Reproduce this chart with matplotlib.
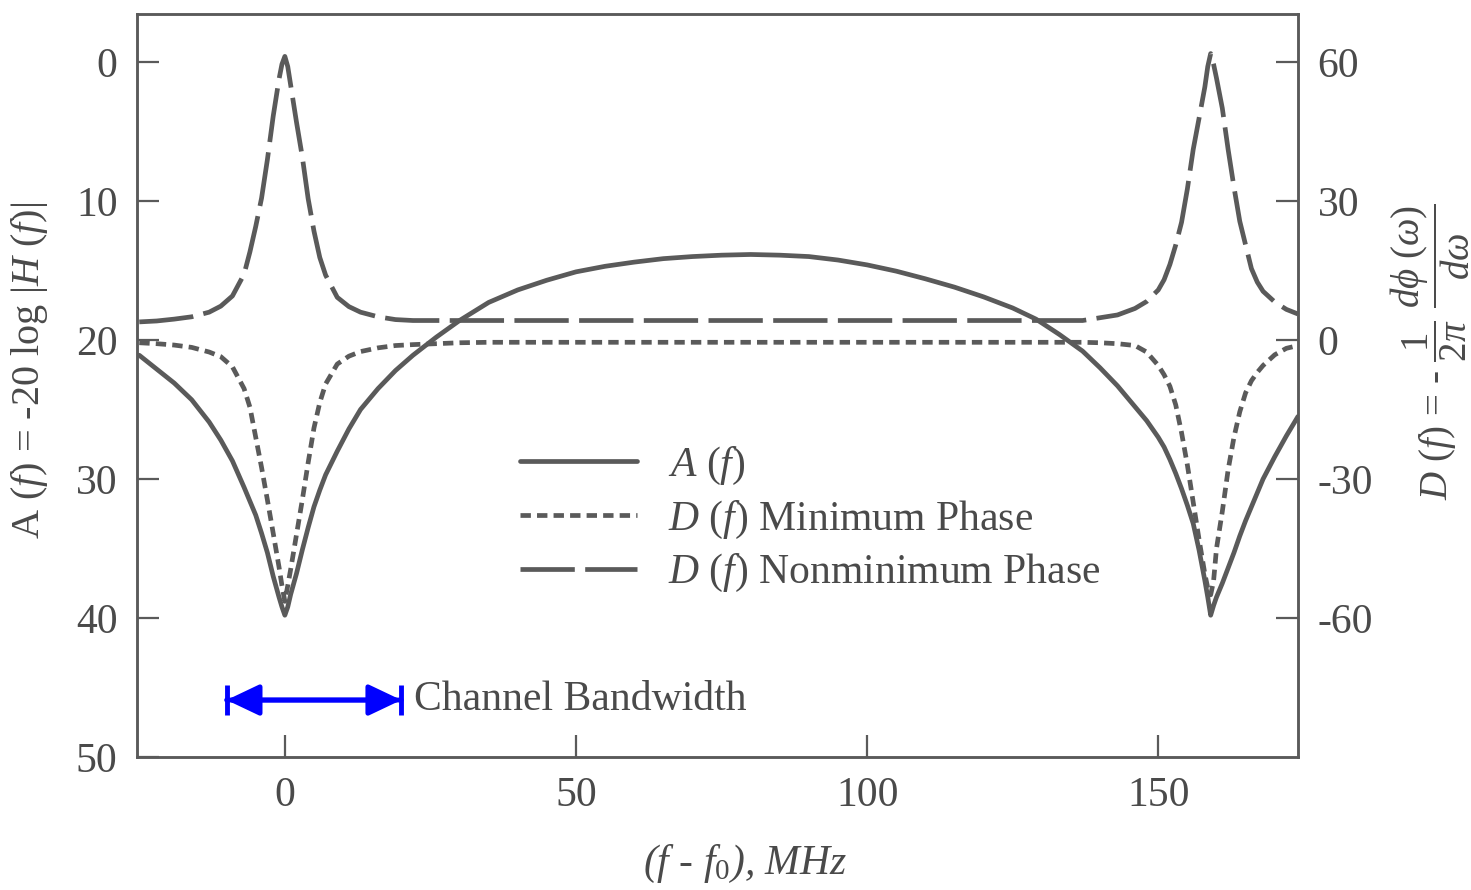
import matplotlib
matplotlib.use("Agg")
import matplotlib.pyplot as plt

plt.rcParams['font.family'] = ['Liberation Serif', 'DejaVu Serif']
plt.rcParams['mathtext.fontset'] = 'custom'
plt.rcParams['mathtext.rm'] = 'Liberation Serif'
plt.rcParams['mathtext.it'] = 'Liberation Serif:italic'
plt.rcParams['mathtext.bf'] = 'Liberation Serif:bold'
plt.rcParams['axes.unicode_minus'] = False

# frequency offset (MHz)
freq = [-25, -22, -19, -16, -13, -11, -9, -7, -6, -5,
        -4, -3, -2, -1, -0.5, 0, 0.5, 1, 2, 3,
        4, 5, 6, 7, 9, 11, 13, 16, 19, 22,
        26, 30, 35, 40, 45, 50, 55, 60, 65, 70,
        75, 80, 85, 90, 95, 100, 105, 110, 115, 120,
        125, 129, 133, 137, 140, 143, 146, 148, 150, 151,
        152, 153, 154, 155, 156, 157, 158, 158.5, 159, 159.5,
        160, 161, 162, 163, 164, 165, 166, 167, 168, 170,
        172, 174]

# A(f), dB (left axis)
amp = [21.1, 22.1, 23.1, 24.3, 25.9, 27.2, 28.7, 30.6, 31.6, 32.6,
       33.9, 35.3, 37.0, 38.5, 39.2, 39.8, 39.2, 38.3, 36.8, 35.1,
       33.5, 32.0, 30.8, 29.7, 28.0, 26.4, 25.0, 23.5, 22.2, 21.1,
       19.8, 18.6, 17.3, 16.4, 15.7, 15.1, 14.7, 14.4, 14.15, 14.0,
       13.9, 13.85, 13.9, 14.0, 14.25, 14.6, 15.05, 15.6, 16.2, 16.9,
       17.7, 18.5, 19.6, 20.8, 22.0, 23.3, 24.8, 25.8, 27.0, 27.7,
       28.6, 29.6, 30.7, 31.9, 33.2, 35.1, 37.3, 38.5, 39.8, 39.1,
       38.5, 37.5, 36.4, 35.3, 34.1, 33.0, 32.0, 31.0, 30.0, 28.4,
       26.9, 25.5]

# D(f) minimum phase, ns (right axis)
d_min = [-0.6, -0.8, -1.1, -1.6, -2.6, -3.6, -5.8, -10.5, -14.5, -21.0,
         -27.5, -34.5, -41.7, -49.0, -53.0, -56.4, -53.0, -49.5, -42.0, -34.5,
         -26.5, -19.0, -13.5, -9.5, -5.2, -3.5, -2.5, -1.7, -1.2, -1.0,
         -0.8, -0.6, -0.5, -0.5, -0.5, -0.5, -0.5, -0.5, -0.5, -0.5,
         -0.5, -0.5, -0.5, -0.5, -0.5, -0.5, -0.5, -0.5, -0.5, -0.5,
         -0.5, -0.5, -0.5, -0.5, -0.6, -0.8, -1.2, -2.6, -5.5, -7.5,
         -10.0, -14.0, -20.0, -27.0, -35.0, -43.0, -50.5, -53.5, -55.0, -52.0,
         -45.0, -37.0, -28.0, -21.0, -15.5, -11.4, -8.8, -7.0, -5.5, -3.2,
         -1.8, -1.2]

# D(f) nonminimum phase, ns (right axis)
d_nonmin = [3.9, 4.1, 4.5, 5.0, 6.0, 7.3, 9.5, 14.2, 19.0, 24.5,
            30.6, 38.9, 48.3, 56.3, 59.5, 61.2, 59.0, 55.0, 47.0, 39.5,
            30.5, 23.5, 17.8, 14.0, 9.2, 7.2, 6.0, 5.0, 4.4, 4.2,
            4.2, 4.2, 4.2, 4.2, 4.2, 4.2, 4.2, 4.2, 4.2, 4.2,
            4.2, 4.2, 4.2, 4.2, 4.2, 4.2, 4.2, 4.2, 4.2, 4.2,
            4.2, 4.2, 4.2, 4.2, 4.8, 5.4, 6.8, 8.3, 10.8, 13.0,
            16.3, 20.5, 25.4, 32.6, 41.1, 47.8, 54.6, 59.0, 61.8, 59.5,
            56.5, 50.0, 41.1, 33.0, 25.6, 20.5, 15.4, 12.5, 10.5, 8.2,
            6.6, 5.6]

band_lo, band_hi = -10, 20
x_ticks = [0, 50, 100, 150]
a_ticks = [0, 10, 20, 30, 40, 50]
d_ticks = [60, 30, 0, -30, -60]

gray = '#5a5a5a'
txt = '#4a4a4a'
fs = 30

fig = plt.figure(figsize=(14.71, 8.9), dpi=100)
ax = fig.add_axes([0.0931, 0.1494, 0.7893, 0.8349])
ax2 = ax.twinx()

la, = ax.plot(freq, amp, color=gray, lw=3.4, solid_capstyle='round')
lm, = ax2.plot(freq, d_min, color=gray, lw=3.4)
lm.set_dashes([2.2, 1.3])
ln, = ax2.plot(freq, d_nonmin, color=gray, lw=3.4)
ln.set_dashes([11.5, 2.2])

ax.set_xlim(-25.4, 174)
ax.set_ylim(50, -3.45)
# D = 60 - 3 * A on the same vertical scale
ax2.set_ylim(60 - 3 * 50, 60 + 3 * 3.45)

ax.set_xticks(x_ticks)
ax.set_yticks(a_ticks)
ax2.set_yticks(d_ticks)
ax.tick_params(axis='both', direction='in', length=16, width=1.6, colors=gray,
               labelcolor=txt, labelsize=fs, pad=14)
ax.tick_params(axis='y', right=False)
ax2.tick_params(axis='y', direction='in', length=16, width=1.6, colors=gray,
                labelcolor=txt, labelsize=fs, pad=14)
for a in (ax, ax2):
    for s in a.spines.values():
        s.set_color(gray)
        s.set_linewidth(1.8)

ax.set_xlabel('($f$ - $f_0$), MHz', fontsize=fs, color=txt, style='italic')
ax.xaxis.set_label_coords(0.524, -0.115)
ax.set_ylabel('A ($f$) = -20 log |$H$ ($f$)|', fontsize=fs - 1, color=txt)
ax.yaxis.set_label_coords(-0.075, 0.52)
ax2.set_ylabel(r'$D$ ($f$) = - $\dfrac{1}{2\pi}$ $\dfrac{d\phi\ (\omega)}{d\omega}$',
               fontsize=fs - 2, color=txt, rotation=90)
ax2.yaxis.set_label_coords(1.078, 0.545)

leg = ax.legend([la, lm, ln],
                ['$A$ ($f$)', '$D$ ($f$) Minimum Phase', '$D$ ($f$) Nonminimum Phase'],
                loc='upper left', bbox_to_anchor=(0.33, 0.42), frameon=False,
                fontsize=fs, handlelength=2.8, handletextpad=0.75, labelspacing=0.28,
                borderpad=0, borderaxespad=0)
for t in leg.get_texts():
    t.set_color(txt)

# channel bandwidth marker
y_bw = 45.9
head = '-|>,head_length=2.0,head_width=0.95'
ax.annotate('', xy=(band_lo, y_bw), xytext=(band_hi, y_bw),
            arrowprops=dict(arrowstyle=head, color='#0000ff', lw=3.5, shrinkA=0, shrinkB=0))
ax.annotate('', xy=(band_hi, y_bw), xytext=(band_lo, y_bw),
            arrowprops=dict(arrowstyle=head, color='#0000ff', lw=3.5, shrinkA=0, shrinkB=0))
ax.vlines([band_lo, band_hi], y_bw - 1.1, y_bw + 1.1, color='#0000ff', lw=3.5)
ax.text(band_hi + 2.2, y_bw, 'Channel Bandwidth', fontsize=fs, color=txt, va='center')

fig.savefig('out.png', dpi=100)
